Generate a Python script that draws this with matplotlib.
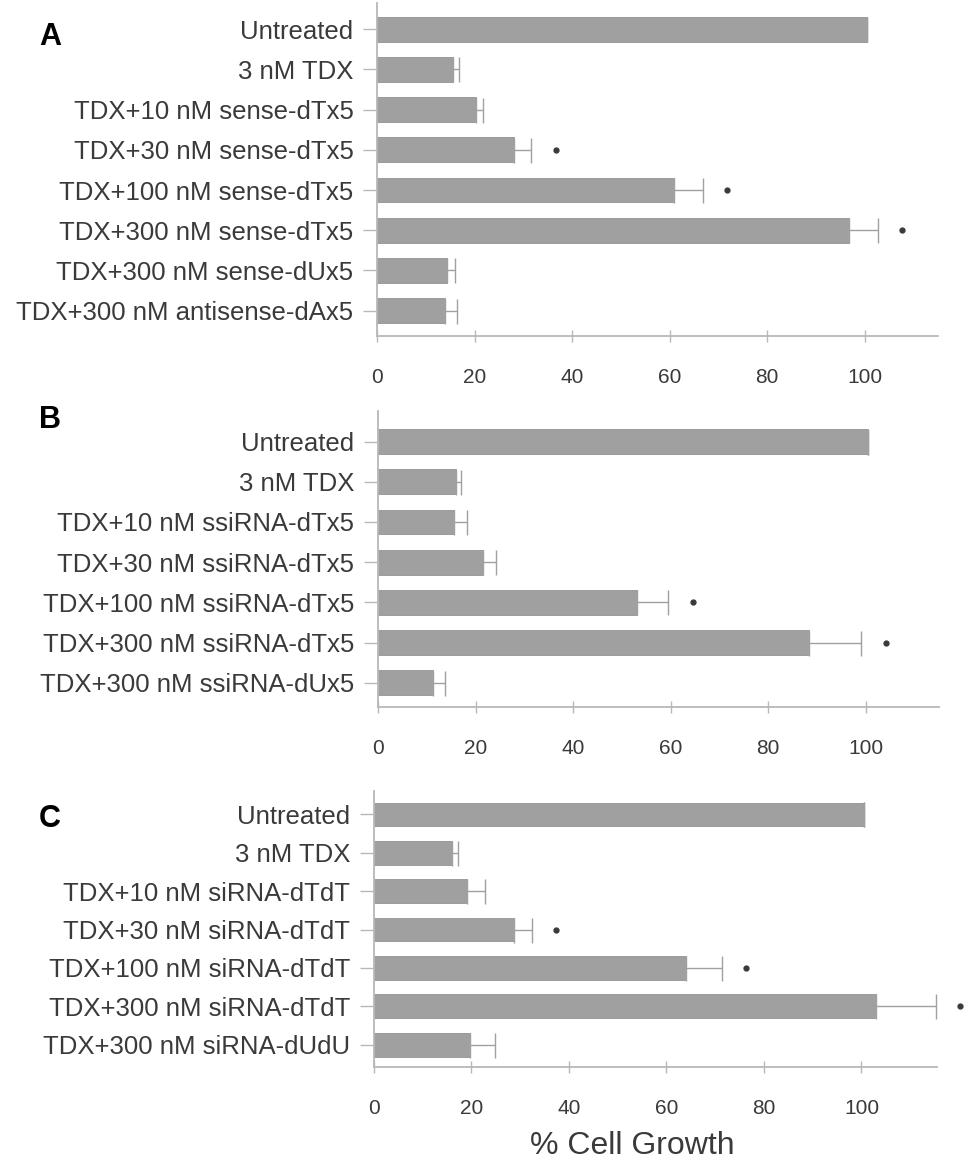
import matplotlib
matplotlib.use('Agg')
import matplotlib.pyplot as plt

plt.rcParams['font.family'] = ['Liberation Sans', 'DejaVu Sans']

FIG_W, FIG_H = 971, 1166

labels_a = ['Untreated', '3 nM TDX', 'TDX+10 nM sense-dTx5', 'TDX+30 nM sense-dTx5',
            'TDX+100 nM sense-dTx5', 'TDX+300 nM sense-dTx5', 'TDX+300 nM sense-dUx5',
            'TDX+300 nM antisense-dAx5']
means_a = [100.5, 15.5, 20.3, 28.0, 60.8, 96.8, 14.4, 13.9]
errs_a = [0, 1.4, 1.5, 3.6, 6.0, 5.9, 1.5, 2.5]
sig_a = [False, False, False, True, True, True, False, False]

labels_b = ['Untreated', '3 nM TDX', 'TDX+10 nM ssiRNA-dTx5', 'TDX+30 nM ssiRNA-dTx5',
            'TDX+100 nM ssiRNA-dTx5', 'TDX+300 nM ssiRNA-dTx5', 'TDX+300 nM ssiRNA-dUx5']
means_b = [100.4, 16.0, 15.6, 21.6, 53.1, 88.4, 11.3]
errs_b = [0, 1.0, 2.6, 2.5, 6.4, 10.7, 2.4]
sig_b = [False, False, False, False, True, True, False]

labels_c = ['Untreated', '3 nM TDX', 'TDX+10 nM siRNA-dTdT', 'TDX+30 nM siRNA-dTdT',
            'TDX+100 nM siRNA-dTdT', 'TDX+300 nM siRNA-dTdT', 'TDX+300 nM siRNA-dUdU']
means_c = [100.6, 15.9, 19.1, 28.8, 64.0, 102.9, 19.6]
errs_c = [0, 1.4, 3.6, 3.6, 7.4, 12.3, 5.2]
sig_c = [False, False, False, True, True, True, False]

BAR_COLOR = '#a0a0a0'
AXIS_COLOR = '#b8b8b8'
TEXT_COLOR = '#3a3a3a'
STAR_GAP = 5


def px_axes(fig, left, right, top, bottom):
    return fig.add_axes([left / FIG_W, 1 - bottom / FIG_H,
                         (right - left) / FIG_W, (bottom - top) / FIG_H])


def draw_panel(ax, labels, means, errs, sig, xmax, ylim):
    ypos = list(range(len(labels)))
    lower = [0] * len(errs)
    ax.barh(ypos, means, height=0.62, color=BAR_COLOR, edgecolor='#939393', linewidth=0.6,
            xerr=[lower, errs], error_kw=dict(ecolor='#a0a0a0', elinewidth=1.0,
                                              capsize=9, capthick=1.0))
    for y, m, e, s in zip(ypos, means, errs, sig):
        if s:
            ax.plot(m + e + STAR_GAP, y, 'o', color='#3a3a3a', markersize=3.5, clip_on=False)
    ax.set_xlim(0, xmax)
    ax.set_ylim(*ylim)
    ax.set_yticks(ypos)
    ax.set_yticklabels(labels, fontsize=18.5, color=TEXT_COLOR)
    ax.set_xticks([0, 20, 40, 60, 80, 100])
    ax.tick_params(axis='x', direction='inout', length=8, width=1, color=AXIS_COLOR,
                   pad=19, labelsize=15, labelcolor=TEXT_COLOR)
    ax.tick_params(axis='y', direction='out', length=10, width=1, color=AXIS_COLOR,
                   pad=7)
    for side in ['top', 'right']:
        ax.spines[side].set_visible(False)
    for side in ['left', 'bottom']:
        ax.spines[side].set_color(AXIS_COLOR)
        ax.spines[side].set_linewidth(1.3)


fig = plt.figure(figsize=(FIG_W / 100, FIG_H / 100), dpi=100)

ax_a = px_axes(fig, 377, 938, 3, 336)
draw_panel(ax_a, labels_a, means_a, errs_a, sig_a, 115, (7.63, -0.65))
ax_b = px_axes(fig, 378, 939, 411, 707)
draw_panel(ax_b, labels_b, means_b, errs_b, sig_b, 115, (6.6, -0.76))
ax_c = px_axes(fig, 374, 937, 791, 1067)
draw_panel(ax_c, labels_c, means_c, errs_c, sig_c, 115.5, (6.58, -0.61))

for letter, y in [('A', 37), ('B', 420), ('C', 819)]:
    fig.text(50 / FIG_W, 1 - y / FIG_H, letter, fontsize=22, fontweight='bold',
             ha='center', va='center')

fig.text(632 / FIG_W, 1 - 1146 / FIG_H, '% Cell Growth', fontsize=23, color=TEXT_COLOR,
         ha='center', va='center')

fig.savefig('out.png', dpi=100)
